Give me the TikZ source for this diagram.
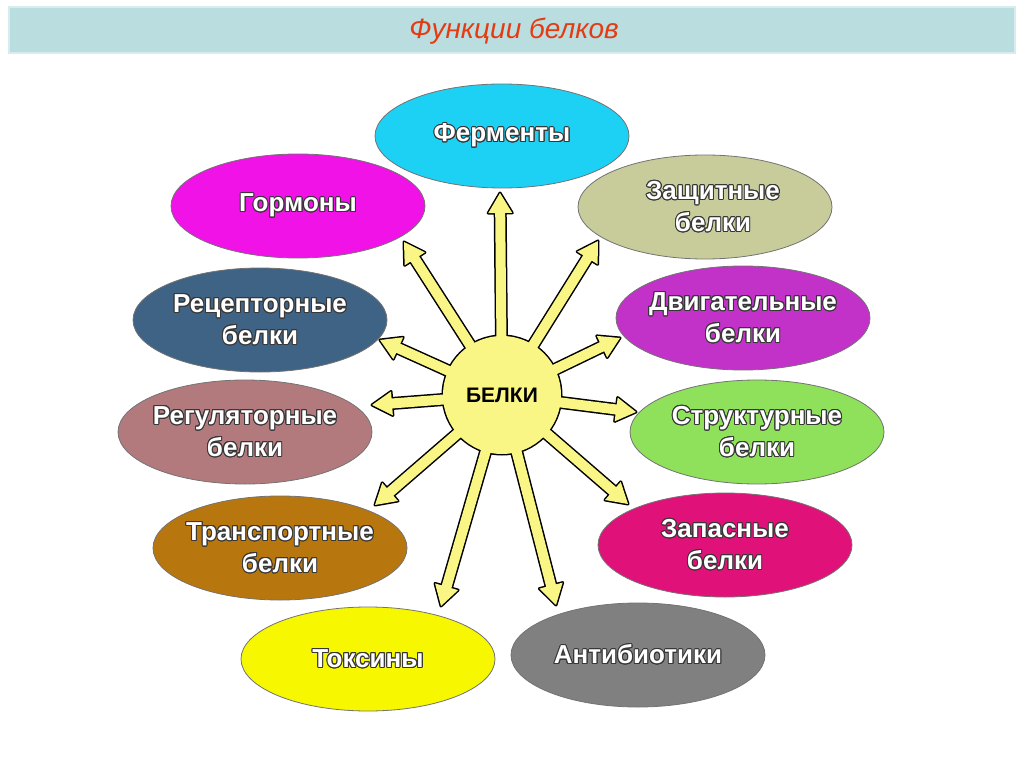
\documentclass[tikz,border=0pt]{standalone}
\usepackage{fontspec}
\setmainfont{Liberation Sans}
\usepackage[copies]{contour}
\contourlength{1pt}
\usetikzlibrary{shapes.geometric}
\definecolor{cferm}{RGB}{29,209,245}
\definecolor{cgorm}{RGB}{240,18,230}
\definecolor{czasch}{RGB}{200,204,154}
\definecolor{crecep}{RGB}{62,99,132}
\definecolor{cdvig}{RGB}{194,50,200}
\definecolor{cregul}{RGB}{179,122,126}
\definecolor{cstruct}{RGB}{143,224,90}
\definecolor{ctransp}{RGB}{184,118,14}
\definecolor{czapas}{RGB}{224,18,122}
\definecolor{ctoks}{RGB}{247,247,0}
\definecolor{canti}{RGB}{128,128,128}
\definecolor{cyel}{RGB}{250,246,133}
\definecolor{cbar}{RGB}{186,221,224}
\definecolor{cbarb}{RGB}{214,236,238}
\definecolor{ctitle}{RGB}{229,59,18}
\definecolor{cshadow}{RGB}{55,55,55}
\newcommand\lbl[1]{\contour{cshadow}{#1}}
\newcommand\blockarrow[3]{%
  \pgfmathanglebetweenpoints{\pgfpointanchor{#1}{center}}{\pgfpointanchor{#2}{center}}%
  \let\barang\pgfmathresult
  \pgfpointdiff{\pgfpointanchor{#1}{center}}{\pgfpointanchor{#2}{center}}%
  \pgfgetlastxy{\barx}{\bary}%
  \pgfmathsetmacro\barlen{veclen(\barx,\bary)}%
  \path[#3, shift={(#1)}, rotate=\barang] (0,-5) -- ({\barlen-20},-5) -- ({\barlen-20},-12) -- (\barlen,0) -- ({\barlen-20},12) -- ({\barlen-20},5) -- (0,5) -- cycle;}
\tikzset{
  ell/.style={ellipse, draw=black!55, line width=0.8pt, minimum width=254pt, minimum height=104pt, inner sep=0pt},
  elltext/.style={text=white, align=center, inner sep=0pt, font=\fontsize{26}{32}\selectfont\bfseries},
  arrowline/.style={draw=black, line width=3pt, line join=round},
  arrowfill/.style={fill=cyel},
}
\begin{document}
\begin{tikzpicture}[x=1pt, y=-1pt]
\useasboundingbox[fill=white] (0,0) rectangle (1024,767);
% title bar
\node[draw=cbarb, line width=2pt, fill=cbar, minimum width=1006pt, minimum height=46pt, inner sep=0pt] (bar) at (512,30) {};
\node[text=ctitle, font=\fontsize{28}{32}\selectfont\itshape] (title) at ([shift={(2,1)}]bar.center) {Функции белков};
% ellipses
\node[ell, fill=cferm, label={[elltext]center:\lbl{Ферменты}}] (ferm) at (502,136) {};
\node[ell, fill=cgorm, label={[elltext]center:\lbl{Гормоны}}] (gorm) at (298,206) {};
\node[ell, fill=czasch, label={[elltext, xshift=8pt]center:\lbl{Защитные}\\\lbl{белки}}] (zasch) at (705,207) {};
\node[ell, fill=crecep, label={[elltext]center:\lbl{Рецепторные}\\\lbl{белки}}] (recep) at (260,320) {};
\node[ell, fill=cdvig, label={[elltext]center:\lbl{Двигательные}\\\lbl{белки}}] (dvig) at (743,318) {};
\node[ell, fill=cregul, label={[elltext]center:\lbl{Регуляторные}\\\lbl{белки}}] (regul) at (245,432) {};
\node[ell, fill=cstruct, label={[elltext]center:\lbl{Структурные}\\\lbl{белки}}] (struct) at (757,432) {};
\node[ell, fill=ctransp, label={[elltext]center:\lbl{Транспортные}\\\lbl{белки}}] (transp) at (280,548) {};
\node[ell, fill=czapas, label={[elltext]center:\lbl{Запасные}\\\lbl{белки}}] (zapas) at (725,545) {};
\node[ell, fill=ctoks, label={[elltext]center:\lbl{Токсины}}] (toks) at (368,659) {};
\node[ell, fill=canti, label={[elltext]center:\lbl{Антибиотики}}] (anti) at (638,655) {};
% centre and arrow tips
\node[circle, minimum size=118pt, inner sep=0pt, draw=black, line width=3pt] (c) at (502,395) {};
\coordinate (t1) at (500,193);
\coordinate (t2) at (404,242);
\coordinate (t3) at (598,241);
\coordinate (t4) at (380,340);
\coordinate (t5) at (620,338);
\coordinate (t6) at (372,405);
\coordinate (t7) at (636,412);
\coordinate (t8) at (375,505);
\coordinate (t9) at (628,504);
\coordinate (t10) at (441,606);
\coordinate (t11) at (556,605);
\foreach \t in {t1,t2,t3,t4,t5,t6,t7,t8,t9,t10,t11}{\blockarrow{c}{\t}{arrowline}}
\foreach \t in {t1,t2,t3,t4,t5,t6,t7,t8,t9,t10,t11}{\blockarrow{c}{\t}{arrowfill}}
\fill[cyel] (c.center) circle (59);
\node[font=\fontsize{21}{24}\selectfont\bfseries] (label) at (c.center) {БЕЛКИ};
\end{tikzpicture}
\end{document}
